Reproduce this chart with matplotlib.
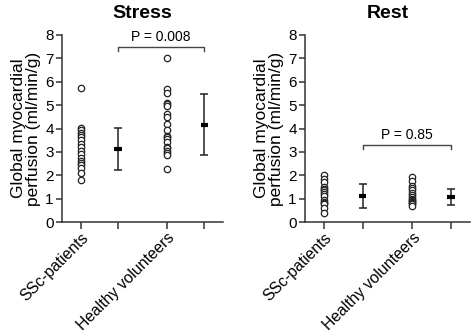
import matplotlib
matplotlib.use("Agg")
import matplotlib.pyplot as plt
import numpy as np

plt.rcParams['font.family'] = ['Liberation Sans', 'DejaVu Sans']

group_labels = ["SSc-patients", "Healthy volunteers"]

stress_ssc = [5.75, 4.02, 3.92, 3.82, 3.72, 3.62, 3.52, 3.35, 3.2, 3.05, 2.9, 2.75, 2.6, 2.52, 2.45, 2.3, 2.1, 1.8]
stress_hv = [7.0, 5.68, 5.5, 5.1, 5.05, 4.98, 4.6, 4.48, 4.18, 3.95, 3.7, 3.62, 3.55, 3.42, 3.22, 3.15, 3.05, 2.95, 2.85, 2.28]
stress_mean = [3.12, 4.17]
stress_sd = [0.90, 1.29]
stress_p = "P = 0.008"

rest_ssc = [2.0, 1.85, 1.7, 1.5, 1.4, 1.35, 1.3, 1.2, 1.1, 0.95, 0.85, 0.8, 0.75, 0.6, 0.4]
rest_hv = [1.92, 1.75, 1.55, 1.45, 1.35, 1.25, 1.15, 1.05, 1.0, 0.95, 0.9, 0.85, 0.8, 0.75, 0.7]
rest_mean = [1.10, 1.08]
rest_sd = [0.52, 0.34]
rest_p = "P = 0.85"

fig = plt.figure(figsize=(4.72, 3.32), dpi=100)
W, H = 472, 332

def make_ax(left, right, top=35, bottom=222):
    return fig.add_axes([left / W, 1 - bottom / H, (right - left) / W, (bottom - top) / H])

pos = [0, 1, 2.3, 3.3]
col = '#222222'

def panel(ax, title, g1, g2, means, sds, ptxt, bar_y):
    ax.plot([pos[0]] * len(g1), g1, 'o', mfc='white', mec=col, ms=4.6, mew=0.9, clip_on=False)
    ax.plot([pos[2]] * len(g2), g2, 'o', mfc='white', mec=col, ms=4.6, mew=0.9, clip_on=False)
    for xi, m, s in zip([pos[1], pos[3]], means, sds):
        ax.errorbar([xi], [m], yerr=[s], fmt='none', ecolor=col, elinewidth=1.1, capsize=2.8, capthick=1.1)
        ax.plot([xi - 0.1, xi + 0.1], [m, m], color='black', lw=3, solid_capstyle='butt')
    ax.plot([pos[1], pos[1], pos[3], pos[3]], [bar_y - 0.17, bar_y, bar_y, bar_y - 0.17], color='#444444', lw=1.0)
    ax.text((pos[1] + pos[3]) / 2, bar_y + 0.12, ptxt, ha='center', va='bottom', fontsize=10)
    ax.set_xlim(-0.5, 3.8)
    ax.set_ylim(0, 8)
    ax.set_yticks(range(0, 9))
    ax.set_xticks(pos)
    ax.set_xticklabels([group_labels[0], '', group_labels[1], ''], rotation=45, ha='right',
                       rotation_mode='anchor', fontsize=11.3)
    ax.tick_params(axis='y', labelsize=11, length=4, width=1.1, color='#333333', pad=2)
    ax.tick_params(axis='x', length=5, width=1.1, color='#333333', pad=1)
    for sp in ['top', 'right']:
        ax.spines[sp].set_visible(False)
    for sp in ['left', 'bottom']:
        ax.spines[sp].set_linewidth(1.1)
        ax.spines[sp].set_color('#333333')
    ax.set_ylabel("Global myocardial\nperfusion (ml/min/g)", fontsize=12.5, linespacing=1.0, labelpad=3)
    ax.set_title(title, fontsize=14, fontweight='bold', pad=12)

ax1 = make_ax(62, 223)
panel(ax1, "Stress", stress_ssc, stress_hv, stress_mean, stress_sd, stress_p, 7.48)
ax2 = make_ax(305, 470)
panel(ax2, "Rest", rest_ssc, rest_hv, rest_mean, rest_sd, rest_p, 3.29)

fig.savefig("out.png", dpi=100)
